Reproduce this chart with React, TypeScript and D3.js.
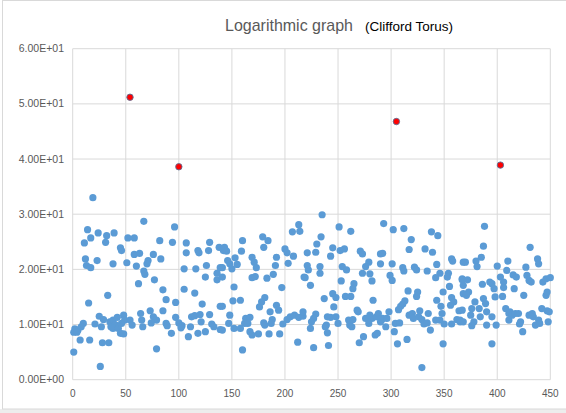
import React from "react";
import * as d3 from "d3";

// ---- data ----
const xs: number[] = [
  19,67,14,24,17,11,32,39,31,52,58,45,46,58,63,12,23,38,51,13,17,60,62,33,15,
  10,2,5,8,1,4,7,16,1,28,34,26,21,25,29,27,35,38,36,40,42,38,43,48,49,46,54,56,64,65,66,45,48,
  96,82,94,107,107,118,119,129,128,138,142,76,71,83,70,67,68,77,105,116,126,125,136,136,139,85,105,115,88,97,122,139,
  73,85,76,79,74,88,89,97,100,103,102,111,112,115,120,121,129,131,133,125,118,109,93,139,79,
  213,207,214,179,184,160,180,143,145,159,200,202,208,192,169,153,146,171,148,155,141,150,173,191,203,141,169,172,183,189,218,152,197,151,158,181,178,176,192,194,186,
  148,141,163,167,162,165,180,188,187,202,205,209,213,217,198,147,141,152,158,167,169,175,185,195,181,212,160,
  235,251,262,293,234,230,245,243,252,256,221,229,271,273,290,292,279,276,290,221,222,233,233,254,258,273,280,282,219,224,253,265,264,237,245,248,246,257,262,283,268,
  217,229,227,225,224,240,243,239,238,240,248,250,260,261,263,264,269,276,280,282,279,286,288,290,292,285,287,274,270,241,227,
  302,312,338,344,319,317,332,339,357,358,368,301,343,311,312,322,324,334,346,342,354,353,299,301,367,368,355,349,368,316,325,324,357,359,356,343,347,313,311,309,307,
  291,296,298,295,304,308,303,306,315,317,320,321,327,326,329,331,335,334,337,342,346,348,350,357,364,362,365,349,329,
  388,387,385,380,381,370,431,438,439,410,400,409,427,415,418,428,430,432,443,446,450,367,372,403,406,395,393,386,397,406,416,373,371,398,405,425,446,447,387,389,379,447,
  367,365,368,376,375,378,376,383,384,390,390,395,399,408,411,412,414,417,420,411,422,421,430,433,434,436,439,440,442,449,448,424,395,
];
const ys: number[] = [
  33.0,28.7,27.2,26.6,25.7,24.8,26.1,26.6,24.9,25.7,25.7,23.9,23.4,22.7,22.9,21.9,21.6,21.0,21.2,20.7,20.3,20.6,17.4,15.3,13.9,
  10.2,9.2,9.0,9.6,8.6,8.6,7.2,7.2,5.0,6.7,6.7,2.4,10.1,11.5,10.9,9.6,10.5,10.8,9.6,10.0,11.3,9.3,9.3,11.7,10.8,10.2,10.8,9.9,12.0,10.8,9.6,8.4,8.3,
  27.7,25.2,24.9,24.8,23.0,23.4,23.0,24.9,23.4,24.0,23.4,22.7,21.6,21.9,21.0,19.7,19.1,18.1,20.1,20.1,20.7,18.6,19.3,18.1,20.3,16.3,16.4,15.7,14.5,14.0,13.7,13.3,
  12.5,12.5,11.4,10.8,10.3,10.2,9.8,11.3,10.3,9.8,9.4,9.6,11.4,11.6,11.8,10.5,11.8,10.1,9.6,8.7,8.4,7.8,8.4,9.1,5.6,
  28.1,26.8,26.9,25.9,25.2,25.2,24.0,24.0,23.3,23.3,23.7,23.0,22.4,22.2,22.2,22.1,21.6,21.3,21.0,20.9,20.3,20.1,20.3,20.7,21.1,18.6,18.5,18.7,18.4,19.1,18.6,16.8,16.7,14.3,14.4,14.9,14.1,13.2,13.5,12.6,12.3,
  11.7,13.3,11.1,11.3,10.2,10.2,10.3,10.9,10.2,10.9,11.4,11.7,11.3,11.5,10.1,10.2,9.0,9.3,9.3,8.7,8.1,8.3,8.3,8.3,9.9,6.8,5.4,
  29.9,27.7,26.9,28.3,25.9,24.6,23.9,22.4,23.4,23.7,23.0,23.1,23.3,22.8,22.8,22.9,21.3,20.5,21.0,20.7,19.9,20.5,19.3,20.5,19.9,19.3,19.2,17.9,18.5,17.1,17.9,17.4,16.5,14.7,15.6,14.9,13.2,15.1,15.1,14.4,12.6,
  12.3,11.9,11.1,10.5,9.3,11.4,11.3,9.9,9.6,8.5,11.4,10.2,10.8,9.9,9.6,10.9,12.3,11.1,11.7,11.1,10.2,11.4,12.0,10.5,11.1,8.1,8.4,7.8,6.7,6.2,5.8,
  27.2,27.4,26.8,26.1,25.4,23.6,23.7,23.1,21.9,21.5,21.3,21.0,20.9,20.3,19.7,20.4,19.9,19.7,19.3,18.5,19.3,18.6,18.9,18.0,18.3,17.1,16.9,15.9,15.6,16.1,15.9,15.1,14.9,14.1,13.5,14.4,13.3,14.3,13.7,13.3,12.7,
  10.8,11.1,12.3,9.6,10.2,10.3,8.7,6.5,7.3,11.7,12.0,11.1,12.5,11.4,10.9,10.1,12.0,10.3,9.0,10.8,10.8,12.0,10.1,10.1,12.5,10.9,10.5,6.5,2.2,
  27.8,24.2,22.2,21.5,20.5,21.3,24.0,21.9,21.0,21.5,20.6,19.8,20.4,19.0,18.6,18.9,18.0,17.7,17.7,18.3,18.5,18.1,18.1,18.6,17.7,17.4,17.7,17.3,16.5,16.7,16.5,15.9,15.3,15.0,15.1,15.3,15.3,15.9,14.7,13.8,14.1,12.5,
  12.6,10.8,10.5,12.9,11.7,10.5,9.8,12.9,11.4,12.3,9.9,11.4,9.9,12.9,12.0,12.3,11.7,12.0,12.0,10.8,10.5,10.1,11.7,12.0,11.4,9.9,10.8,10.2,12.9,12.3,10.5,8.7,6.5,
];
const redX: number[] = [54, 100, 305, 403];
const redY: number[] = [51.2, 38.6, 46.8, 38.9];

const xTicks: number[] = [0, 50, 100, 150, 200, 250, 300, 350, 400, 450];
const yTicks: number[] = [0, 10, 20, 30, 40, 50, 60];
const yTickLabels: string[] = ["0.00E+00", "1.00E+01", "2.00E+01", "3.00E+01", "4.00E+01", "5.00E+01", "6.00E+01"];

const TITLE = "Logarithmic graph";
const SUBTITLE = "(Clifford Torus)";

export default function App() {
  const W = 566, H = 413;
  const x = d3.scaleLinear().domain([0, 450]).range([72.7, 550.3]);
  const y = d3.scaleLinear().domain([0, 60]).range([379.7, 48.7]);
  const n = Math.min(xs.length, ys.length);
  const pts = d3.range(n).map((i) => [xs[i], ys[i]]);
  const font = "'Liberation Sans', Arial, sans-serif";
  return (
    <svg width={W} height={H} style={{ position: "absolute", left: 0, top: 0, background: "#fff" }}>
      <rect x={0} y={0} width={W} height={H} fill="#fff" />
      <rect x={0} y={409} width={W} height={4} fill="#ededed" />
      <rect x={2.5} y={0.5} width={W + 10} height={408.5} fill="#fff" stroke="#d9d9d9" />
      {xTicks.map((t) => (
        <line key={"vx" + t} x1={x(t)} x2={x(t)} y1={y(60)} y2={y(0)} stroke="#d9d9d9" strokeWidth={1} />
      ))}
      {yTicks.map((t) => (
        <line key={"hy" + t} x1={x(0)} x2={x(450)} y1={y(t)} y2={y(t)} stroke="#d9d9d9" strokeWidth={1} />
      ))}
      {yTicks.map((t, i) => (
        <text key={"yl" + t} x={64} y={y(t) + 3.5} textAnchor="end" fontFamily={font} fontSize={10.5} fill="#595959">
          {yTickLabels[i]}
        </text>
      ))}
      {xTicks.map((t) => (
        <text key={"xl" + t} x={x(t)} y={397} textAnchor="middle" fontFamily={font} fontSize={10} fill="#595959">
          {t}
        </text>
      ))}
      {pts.map((p, i) => (
        <circle key={"p" + i} cx={x(p[0])} cy={y(p[1])} r={3.6} fill="#5b9bd5" />
      ))}
      {redX.map((v, i) => (
        <circle key={"r" + i} cx={x(v)} cy={y(redY[i])} r={3.2} fill="#ff0000" stroke="#5a6f96" strokeWidth={0.9} />
      ))}
      <text x={225} y={31} fontFamily={font} fontSize={17} fill="#595959" textLength={128} lengthAdjust="spacingAndGlyphs">
        {TITLE}
      </text>
      <text x={365} y={31} fontFamily={font} fontSize={12.5} fill="#000" textLength={88} lengthAdjust="spacingAndGlyphs">
        {SUBTITLE}
      </text>
    </svg>
  );
}
